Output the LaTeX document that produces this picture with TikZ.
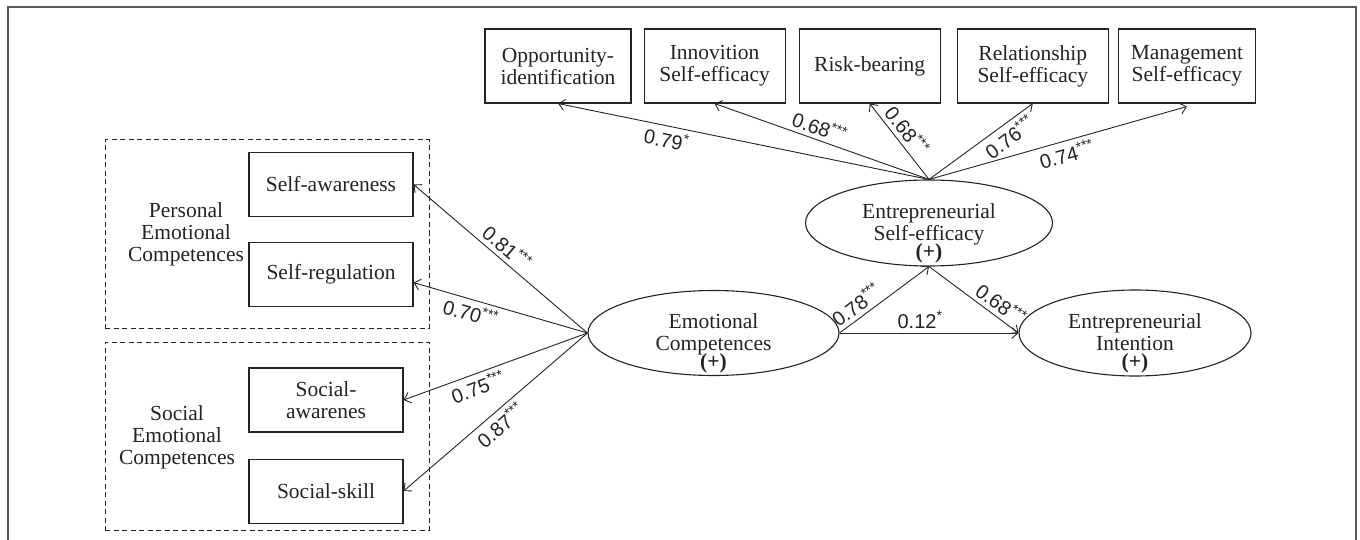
\documentclass[tikz,border=0pt]{standalone}
\usepackage{fontspec}
\setmainfont{Liberation Serif}
\setsansfont{Liberation Sans}
\usetikzlibrary{arrows.meta, positioning, shapes.geometric}
\definecolor{inkgray}{RGB}{35,35,35}
\definecolor{framegray}{RGB}{90,90,90}
\tikzset{
  conbox/.style={rectangle, draw=inkgray, line width=1.1pt, align=center, inner sep=2pt,
    font=\fontsize{21.5}{22}\selectfont, text=inkgray},
  topbox/.style={conbox, minimum height=74pt},
  subbox/.style={conbox, minimum height=64pt},
  oval/.style={ellipse, draw=inkgray, line width=1.1pt},
  ovtext/.style={align=center, font=\fontsize{21.5}{22}\selectfont, text=inkgray, yshift=-10.5pt},
  group/.style={rectangle, draw=inkgray, line width=1pt, dash pattern=on 5pt off 3.5pt},
  grouptext/.style={align=center, font=\fontsize{21.5}{22}\selectfont, text=inkgray},
  arr/.style={-{Straight Barb[length=6pt, width=11pt]}, line width=0.9pt, draw=inkgray},
  coef/.style={font=\sffamily\fontsize{20}{22}\selectfont, text=inkgray, sloped, inner sep=4pt},
}

\begin{document}
\begin{tikzpicture}[x=1pt, y=-1pt]
\useasboundingbox (0,0) rectangle (1360,540);

% ── Frame ──
\draw[framegray, line width=1.5pt] (8,540) -- (8,7) -- (1356,7) -- (1356,540);

% ── Top row: self-efficacy dimensions ──
\node[topbox, minimum width=146pt] (opp) at (558,66) {Opportunity-\\identification};
\node[topbox, minimum width=141pt, right=12pt of opp] (innov) {Innovition\\Self-efficacy};
\node[topbox, minimum width=141pt, right=13pt of innov] (risk) {Risk-bearing};
\node[topbox, minimum width=151pt, right=16pt of risk] (rel) {Relationship\\Self-efficacy};
\node[topbox, minimum width=137pt, right=9pt of rel] (mgmt) {Management\\Self-efficacy};

% ── Left: emotional competence groups ──
\node[group, minimum width=324pt, minimum height=188pt] (pgroup) at (267,234) {};
\node[group, minimum width=324pt, minimum height=188pt] (sgroup) at (267,436) {};
\node[grouptext] (ptext) at (186,234) {Personal\\Emotional\\Competences};
\node[grouptext] (stext) at (177,437) {Social\\Emotional\\Competences};
\node[subbox, minimum width=164pt] (saware) at (331,184.5) {Self-awareness};
\node[subbox, minimum width=164pt, below=25pt of saware] (sreg) {Self-regulation};
\node[subbox, minimum width=154pt] (socaw) at (326,400) {Social-\\awarenes};
\node[subbox, minimum width=154pt, below=26pt of socaw] (sskill) {Social-skill};

% ── Latent variables ──
\node[oval, minimum width=251pt, minimum height=85pt,
  label={[ovtext]center:{Emotional\\Competences\\[-4pt]\textbf{(+)}}}] (emo) at (713.5,333) {};
\node[oval, minimum width=247pt, minimum height=86pt,
  label={[ovtext]center:{Entrepreneurial\\Self-efficacy\\[-4pt]\textbf{(+)}}}] (ese) at (929,223) {};
\node[oval, minimum width=232pt, minimum height=86pt,
  label={[ovtext]center:{Entrepreneurial\\Intention\\[-4pt]\textbf{(+)}}}] (ei) at (1135,333) {};

% ── Loadings ──
\draw[arr] (ese.north) -- node[coef, below, pos=0.70] {0.79\textsuperscript{*}} (opp.south);
\draw[arr] (ese.north) -- node[coef, above, pos=0.53] {0.68\textsuperscript{***}} (innov.south);
\draw[arr] (ese.north) -- node[coef, above, pos=0.54] {0.68\textsuperscript{***}} (risk.south);
\draw[arr] (ese.north) -- node[coef, below, pos=0.70] {0.76\textsuperscript{***}} (rel.south);
\draw[arr] (ese.north) -- node[coef, below, pos=0.52] {0.74\textsuperscript{***}} ([yshift=-3pt]mgmt.south);

\draw[arr] (emo.west) -- node[coef, above, pos=0.51] {0.81\textsuperscript{***}} (saware.east);
\draw[arr] (emo.west) -- node[coef, below, pos=0.65] {0.70\textsuperscript{***}} ([yshift=-8pt]sreg.east);
\draw[arr] (emo.west) -- node[coef, below, pos=0.62] {0.75\textsuperscript{***}} (socaw.east);
\draw[arr] (emo.west) -- node[coef, below, pos=0.52] {0.87\textsuperscript{***}} (sskill.east);

% ── Structural paths ──
\draw[arr] (emo.east) -- node[coef, above, pos=0.27] {0.78\textsuperscript{***}} (ese.south);
\draw[arr] (emo.east) -- node[coef, above, pos=0.45] {0.12\textsuperscript{*}} (ei.west);
\draw[arr] (ese.south) -- node[coef, above, pos=0.72] {0.68\textsuperscript{***}} (ei.west);

\end{tikzpicture}
\end{document}
